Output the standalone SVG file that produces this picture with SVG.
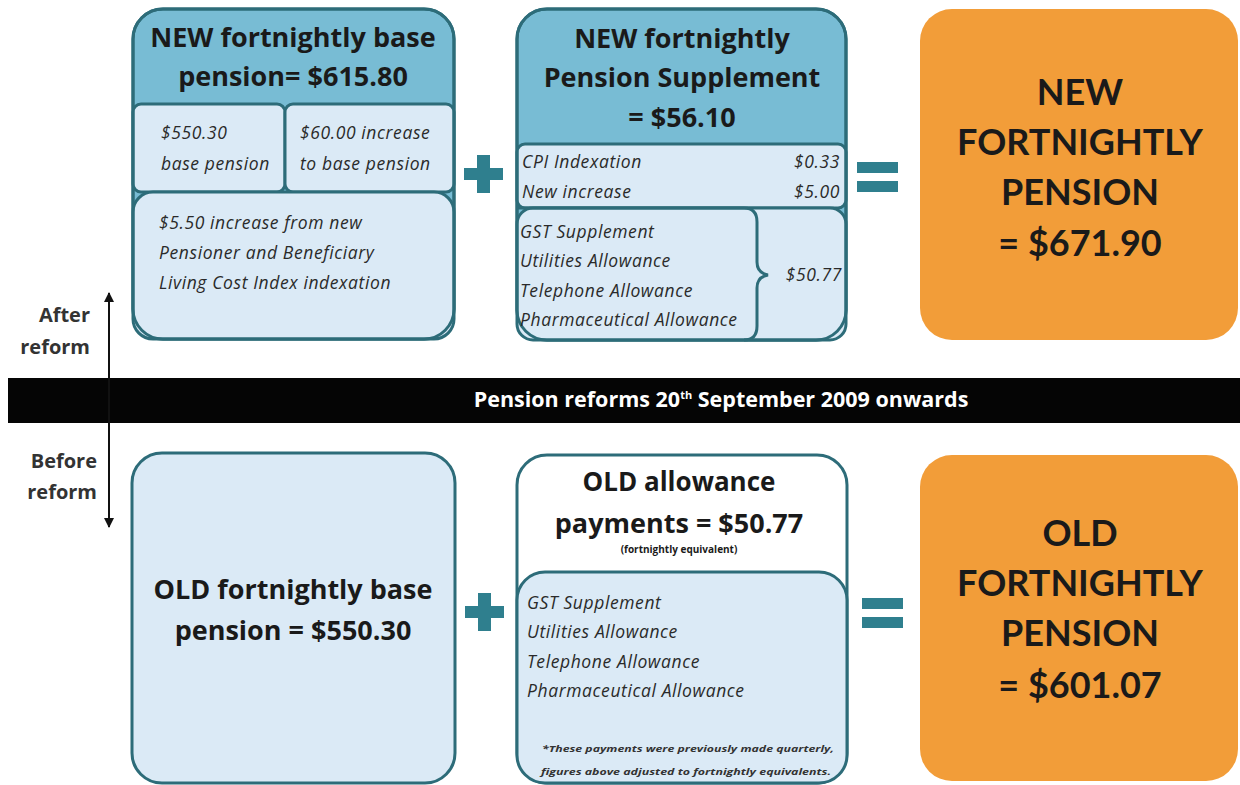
<svg xmlns="http://www.w3.org/2000/svg" width="1240" height="785" viewBox="0 0 1240 785">
<style>
.hdr{fill:#78bcd4;stroke:#2d6c79;stroke-width:3}
.lt{fill:#dbeaf6;stroke:#2d6c79;stroke-width:3}
.ol{fill:none;stroke:#2d6c79;stroke-width:3}
.or{fill:#f29d39}
.sign{fill:#2f7f8e}
.tb{font-family:"Open Sans","Liberation Sans",sans-serif;font-weight:bold;fill:#1a1a1a;text-anchor:middle}
.to{font-family:Lato,"Liberation Sans",sans-serif;font-weight:bold;fill:#1a1a1a;text-anchor:middle;font-size:36px}
.ti{font-family:"Open Sans","Liberation Sans",sans-serif;font-style:italic;fill:#2a2a2a;font-size:17.5px;letter-spacing:0.6px}
.fn{font-family:"Open Sans","Liberation Sans",sans-serif;font-style:italic;font-weight:bold;fill:#333;font-size:9.5px;text-anchor:middle}
.lab{font-family:"Open Sans","Liberation Sans",sans-serif;font-weight:bold;fill:#333;font-size:20px;text-anchor:end}
</style>
<defs>
<marker id="ah" markerWidth="10" markerHeight="10" refX="9" refY="5" orient="auto-start-reverse" markerUnits="userSpaceOnUse">
<path d="M0,0 L10,5 L0,10 z" fill="#111"/>
</marker>
</defs>
<rect width="1240" height="785" fill="#fff"/>

<g id="band">
<rect x="8" y="378" width="1232" height="45" fill="#050505"/>
<text x="721" y="407" style="font-family:'Open Sans','Liberation Sans',sans-serif;font-weight:bold;font-size:21.5px;fill:#fff;text-anchor:middle">Pension reforms 20<tspan dy="-8" font-size="11">th</tspan><tspan dy="8"> September 2009 onwards</tspan></text>
</g>

<g id="connectors">
<line x1="109" y1="293" x2="109" y2="527" stroke="#111" stroke-width="2" marker-start="url(#ah)" marker-end="url(#ah)"/>
</g>

<g id="labels">
<text class="lab" x="90" y="322">After</text>
<text class="lab" x="90" y="354">reform</text>
<text class="lab" x="97" y="468">Before</text>
<text class="lab" x="97" y="499">reform</text>
</g>

<g id="new-base">
<rect class="hdr" x="133" y="9" width="321" height="330" rx="30"/>
<rect class="lt" x="133" y="104" width="152" height="88" rx="8"/>
<rect class="lt" x="285" y="104" width="169" height="88" rx="8"/>
<rect class="lt" x="133" y="192" width="321" height="147" rx="20"/>
<rect class="ol" x="133" y="9" width="321" height="330" rx="30"/>
<text class="tb" x="293" y="47" font-size="27">NEW fortnightly base</text>
<text class="tb" x="293" y="86" font-size="27">pension= $615.80</text>
<text class="ti" x="161" y="139">$550.30</text>
<text class="ti" x="161" y="170">base pension</text>
<text class="ti" x="300" y="139">$60.00 increase</text>
<text class="ti" x="300" y="170">to base pension</text>
<text class="ti" x="159" y="229">$5.50 increase from new</text>
<text class="ti" x="159" y="259">Pensioner and Beneficiary</text>
<text class="ti" x="159" y="289">Living Cost Index indexation</text>
</g>

<g id="plus-top"><rect class="sign" x="464" y="168" width="39" height="12"/><rect class="sign" x="477" y="155" width="13" height="38"/></g>

<g id="new-supplement">
<rect class="hdr" x="517" y="9" width="329" height="331" rx="30"/>
<rect class="lt" x="517" y="144" width="329" height="64" rx="8"/>
<rect class="lt" x="517" y="208" width="329" height="132" rx="16"/>
<path class="ol" d="M517,208 H744 Q757,208 757,222 V262 Q757,273 768,275 Q757,277 757,288 V326 Q757,340 744,340"/>
<rect class="ol" x="517" y="9" width="329" height="331" rx="30"/>
<text class="tb" x="682" y="48" font-size="27">NEW fortnightly</text>
<text class="tb" x="682" y="87" font-size="27">Pension Supplement</text>
<text class="tb" x="682" y="127" font-size="27">= $56.10</text>
<text class="ti" x="522" y="168">CPI Indexation</text>
<text class="ti" x="840" y="168" text-anchor="end">$0.33</text>
<text class="ti" x="522" y="198">New increase</text>
<text class="ti" x="840" y="198" text-anchor="end">$5.00</text>
<text class="ti" x="520" y="238">GST Supplement</text>
<text class="ti" x="520" y="267">Utilities Allowance</text>
<text class="ti" x="520" y="297">Telephone Allowance</text>
<text class="ti" x="520" y="326">Pharmaceutical Allowance</text>
<text class="ti" x="842" y="281" text-anchor="end">$50.77</text>
</g>

<g id="eq-top"><rect class="sign" x="857" y="162" width="41" height="11"/><rect class="sign" x="857" y="181" width="41" height="11"/></g>

<g id="new-total">
<rect class="or" x="920" y="9" width="318" height="331" rx="32"/>
<text class="to" x="1080" y="105">NEW</text>
<text class="to" x="1080" y="155">FORTNIGHTLY</text>
<text class="to" x="1080" y="205">PENSION</text>
<text class="to" x="1080" y="256">= $671.90</text>
</g>

<g id="old-base">
<rect class="lt" x="132" y="453" width="323" height="330" rx="30"/>
<text class="tb" x="293" y="599" font-size="27">OLD fortnightly base</text>
<text class="tb" x="293" y="640" font-size="27">pension = $550.30</text>
</g>

<g id="plus-bottom"><rect class="sign" x="465" y="606" width="39" height="12"/><rect class="sign" x="478" y="593" width="13" height="38"/></g>

<g id="old-allowance">
<rect x="517" y="455" width="330" height="328" rx="30" fill="#fff" stroke="#2d6c79" stroke-width="3"/>
<rect class="lt" x="517" y="572" width="330" height="211" rx="28"/>
<text class="tb" x="679" y="491" font-size="26">OLD allowance</text>
<text class="tb" x="679" y="533" font-size="27">payments = $50.77</text>
<text class="tb" x="679" y="553" font-size="10">(fortnightly equivalent)</text>
<text class="ti" x="527" y="609">GST Supplement</text>
<text class="ti" x="527" y="638">Utilities Allowance</text>
<text class="ti" x="527" y="668">Telephone Allowance</text>
<text class="ti" x="527" y="697">Pharmaceutical Allowance</text>
<text class="fn" x="688" y="752" textLength="292" lengthAdjust="spacingAndGlyphs">*These payments were previously made quarterly,</text>
<text class="fn" x="686" y="775" textLength="290" lengthAdjust="spacingAndGlyphs">figures above adjusted to fortnightly equivalents.</text>
</g>

<g id="eq-bottom"><rect class="sign" x="862" y="598" width="41" height="11"/><rect class="sign" x="862" y="617" width="41" height="11"/></g>

<g id="old-total">
<rect class="or" x="920" y="455" width="318" height="326" rx="32"/>
<text class="to" x="1080" y="546">OLD</text>
<text class="to" x="1080" y="596">FORTNIGHTLY</text>
<text class="to" x="1080" y="646">PENSION</text>
<text class="to" x="1080" y="698">= $601.07</text>
</g>
</svg>
